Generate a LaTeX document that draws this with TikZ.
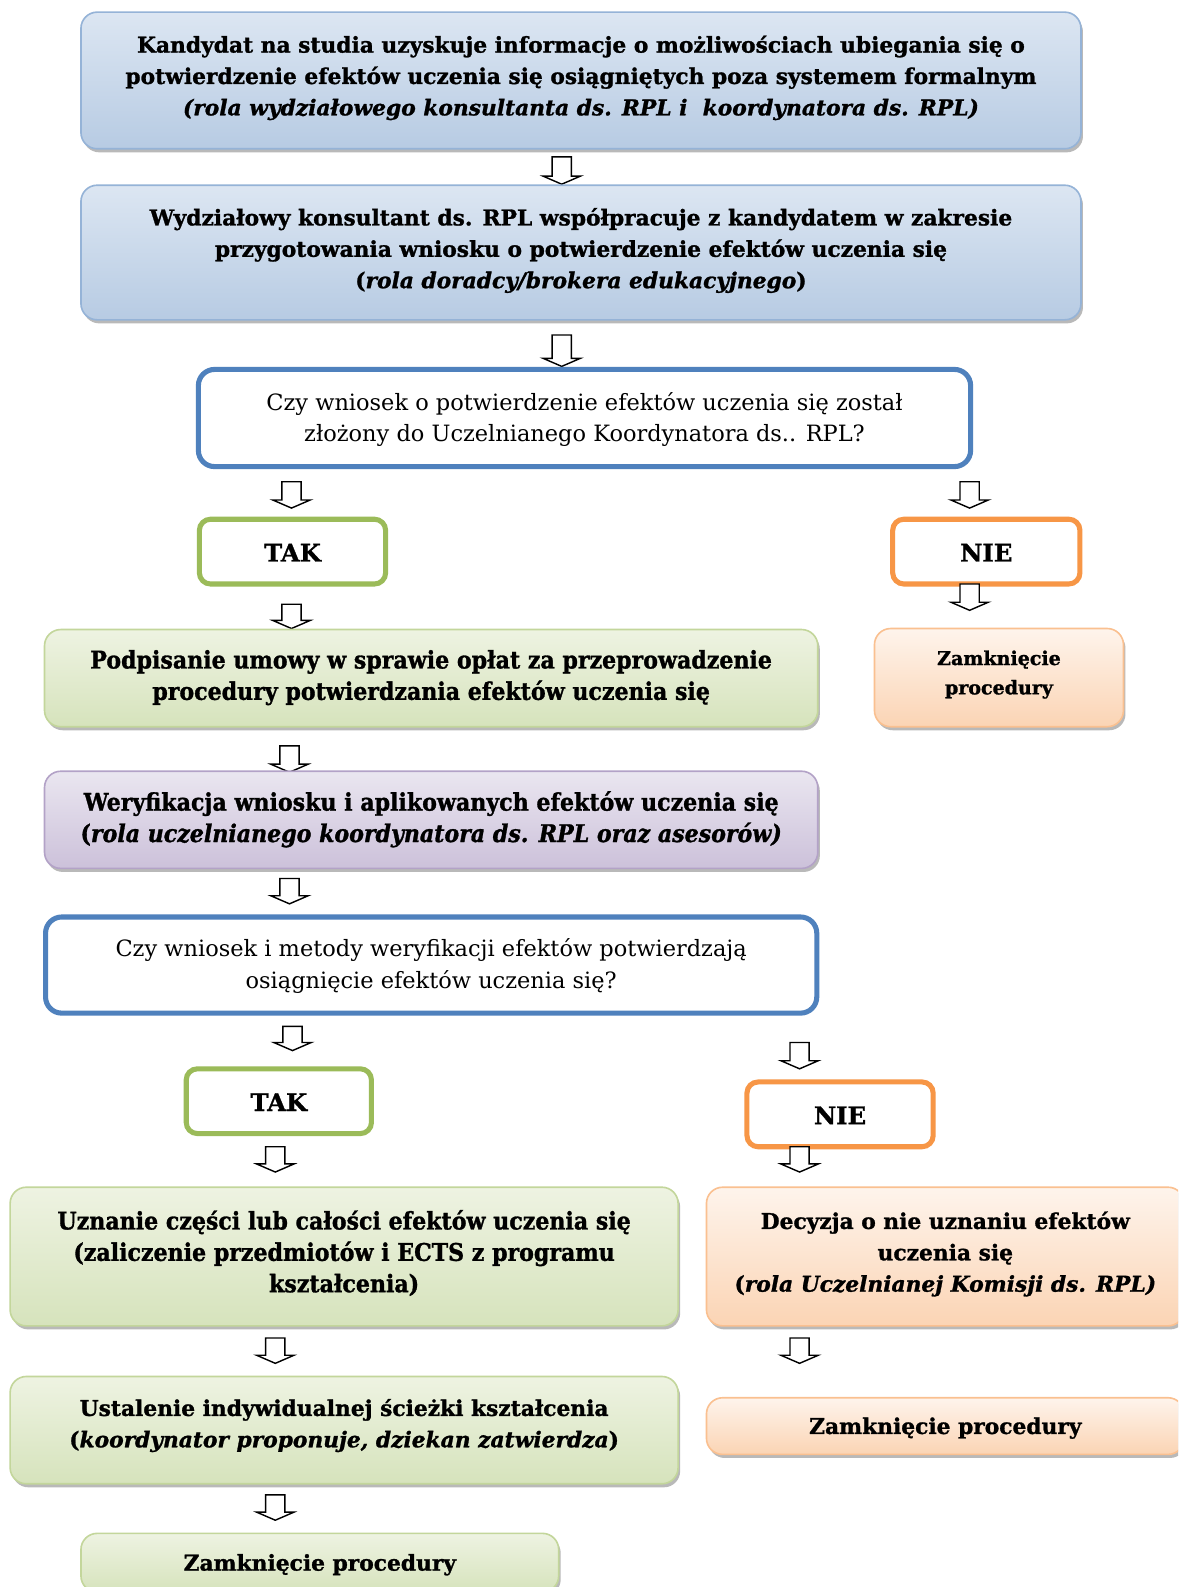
\documentclass[tikz,border=0pt]{standalone}
\usepackage{fontspec}
\setmainfont{DejaVu Serif}[BoldFeatures={FakeBold=1.2},BoldItalicFeatures={FakeBold=1.2}]
\newfontfamily\condfont[FakeStretch=0.91,BoldFeatures={FakeBold=1.2},BoldItalicFeatures={FakeBold=1.2}]{DejaVu Serif}
\usetikzlibrary{shadows}
\definecolor{bluetop}{HTML}{DCE6F2}
\definecolor{bluebot}{HTML}{B7CBE3}
\definecolor{blueedge}{HTML}{95B3D7}
\definecolor{greentop}{HTML}{EEF3E2}
\definecolor{greenbot}{HTML}{D6E3BC}
\definecolor{greenedge}{HTML}{C3D69B}
\definecolor{purptop}{HTML}{EAE6F0}
\definecolor{purpbot}{HTML}{CCC1DA}
\definecolor{purpedge}{HTML}{B3A2C7}
\definecolor{oratop}{HTML}{FEF4EC}
\definecolor{orabot}{HTML}{FBD4B4}
\definecolor{oraedge}{HTML}{FAC090}
\definecolor{decblue}{HTML}{4F81BD}
\definecolor{takgreen}{HTML}{9BBB59}
\definecolor{nieorange}{HTML}{F79646}
\tikzset{
  x=1pt,y=-1pt,
  gbox/.style={rounded corners=16pt, line width=1.6pt, inner sep=0pt,
    drop shadow={shadow xshift=2pt,shadow yshift=-3.5pt,opacity=.55,fill=black!50}},
  bluebox/.style={gbox, draw=blueedge, top color=bluetop, bottom color=bluebot},
  greenbox/.style={gbox, draw=greenedge, top color=greentop, bottom color=greenbot},
  purpbox/.style={gbox, draw=purpedge, top color=purptop, bottom color=purpbot},
  orabox/.style={gbox, draw=oraedge, top color=oratop, bottom color=orabot},
  decbox/.style={rounded corners=16pt, line width=5pt, draw=decblue, fill=white, inner sep=0pt},
  takbox/.style={rounded corners=11pt, line width=5pt, draw=takgreen, fill=white, inner sep=0pt},
  niebox/.style={rounded corners=11pt, line width=5pt, draw=nieorange, fill=white, inner sep=0pt},
  txt/.style={align=center, inner sep=0pt, font=\fontsize{21.5}{31}\selectfont\bfseries},
  bigtxt/.style={align=center, inner sep=0pt, font=\fontsize{24}{31}\selectfont\bfseries},
  rtxt/.style={align=center, inner sep=0pt, font=\fontsize{22.2}{31}\selectfont},
  ctxt/.style={align=center, inner sep=0pt, font=\fontsize{24}{31}\selectfont\condfont\bfseries},
  arr/.style={draw=black, fill=white, line width=1.4pt, line join=miter},
  pics/dnarr/.style={code={
    \draw[arr] (-9.5,0) -- (9.5,0) -- (9.5,#1-8) -- (18.5,#1-8) -- (0,#1)
      -- (-18.5,#1-8) -- (-9.5,#1-8) -- cycle;}}
}
\begin{document}
\begin{tikzpicture}
\path[use as bounding box] (0,0) rectangle (1164,1568);
\clip (0,0) rectangle (1164,1568);
\fill[white] (0,0) rectangle (1164,1568);

% Box 1
\node[bluebox, minimum width=988pt, minimum height=135pt] (b1) at (574,79.5) {};
\node[txt] (t1) at (574,77) {Kandydat na studia uzyskuje informacje o możliwościach ubiegania się o\\
potwierdzenie efektów uczenia się osiągniętych poza systemem formalnym\\
\textit{(rola wydziałowego konsultanta ds. RPL i\ \ koordynatora ds. RPL)}};
\pic at (555,155) {dnarr=27};

% Box 2
\node[bluebox, minimum width=988pt, minimum height=133pt] (b2) at (574,249.5) {};
\node[txt] (t2) at (574,247.5) {Wydziałowy konsultant ds. RPL współpracuje z kandydatem w zakresie\\
przygotowania wniosku o potwierdzenie efektów uczenia się\\
(\textit{rola doradcy/brokera edukacyjnego})};
\pic at (555,331) {dnarr=31};

% Decision 1
\node[decbox, minimum width=763pt, minimum height=96pt] (d1) at (577.5,413) {};
\node[rtxt] (td1) at (577.5,414.5) {Czy wniosek o potwierdzenie efektów uczenia się został\\
złożony do Uczelnianego Koordynatora ds.. RPL?};
\pic at (288,476) {dnarr=26};
\pic at (958,476) {dnarr=26};

% TAK / NIE 1
\node[takbox, minimum width=184pt, minimum height=64pt] (tak1) at (289,545) {};
\node[bigtxt] (ttak1) at (289,546) {TAK};
\node[niebox, minimum width=185pt, minimum height=64pt] (nie1) at (974.5,545) {};
\node[bigtxt] (tnie1) at (974.5,546) {NIE};
\pic at (288,597) {dnarr=24};
\pic at (958,577) {dnarr=26};

% Podpisanie
\node[greenbox, minimum width=764pt, minimum height=96pt] (p) at (426,670) {};
\node[ctxt] (tp) at (426,669.5) {Podpisanie umowy w sprawie opłat za przeprowadzenie\\
procedury potwierdzania efektów uczenia się};
% Zamkniecie 1
\node[orabox, minimum width=246pt, minimum height=97pt] (z1) at (987,669.5) {};
\node[align=center, inner sep=0pt, font=\fontsize{18.8}{29}\selectfont\bfseries] (tz1) at (987,666.5) {Zamknięcie\\procedury};
\pic at (286,737) {dnarr=26};

% Weryfikacja
\node[purpbox, minimum width=764pt, minimum height=96pt] (w) at (426,810) {};
\node[ctxt] (tw) at (426,809.5) {Weryfikacja wniosku i aplikowanych efektów uczenia się\\
(\textit{rola uczelnianego koordynatora ds. RPL oraz asesorów)}};
\pic at (286,868) {dnarr=25};

% Decision 2
\node[decbox, minimum width=762pt, minimum height=95pt] (d2) at (426,953.5) {};
\node[rtxt] (td2) at (426,954.5) {Czy wniosek i metody weryfikacji efektów potwierdzają\\
osiągnięcie efektów uczenia się?};
\pic at (289,1014) {dnarr=24};
\pic at (790,1030) {dnarr=26};

% TAK / NIE 2
\node[takbox, minimum width=183pt, minimum height=64pt] (tak2) at (275.5,1088) {};
\node[bigtxt] (ttak2) at (275.5,1089) {TAK};
\node[niebox, minimum width=184pt, minimum height=64pt] (nie2) at (830,1101) {};
\node[bigtxt] (tnie2) at (830,1102) {NIE};
\pic at (272,1133) {dnarr=25};
\pic at (790,1133) {dnarr=25};

% Uznanie
\node[greenbox, minimum width=660pt, minimum height=137pt] (u) at (340,1241.5) {};
\node[ctxt] (tu) at (340,1238) {Uznanie części lub całości efektów uczenia się\\
(zaliczenie przedmiotów i ECTS z programu\\
kształcenia)};
% Decyzja
\node[orabox, minimum width=472pt, minimum height=137pt] (dec) at (934,1241.5) {};
\node[txt] (tdec) at (934,1239) {Decyzja o nie uznaniu efektów\\
uczenia się\\
(\textit{rola Uczelnianej Komisji ds. RPL)}};
\pic at (272,1322) {dnarr=25};
\pic at (790,1322) {dnarr=25};

% Ustalenie
\node[greenbox, minimum width=660pt, minimum height=106pt] (us) at (340,1413) {};
\node[txt] (tus) at (340,1408.5) {Ustalenie indywidualnej ścieżki kształcenia\\
(\textit{koordynator proponuje, dziekan zatwierdza})};
% Zamkniecie 2
\node[orabox, minimum width=472pt, minimum height=56pt] (z2) at (934,1409) {};
\node[txt] (tz2) at (934,1411) {Zamknięcie procedury};
\pic at (272,1477) {dnarr=25};

% Zamkniecie 3
\node[greenbox, minimum width=472pt, minimum height=58pt] (z3) at (316,1544) {};
\node[txt] (tz3) at (316,1546) {Zamknięcie procedury};
\end{tikzpicture}
\end{document}
